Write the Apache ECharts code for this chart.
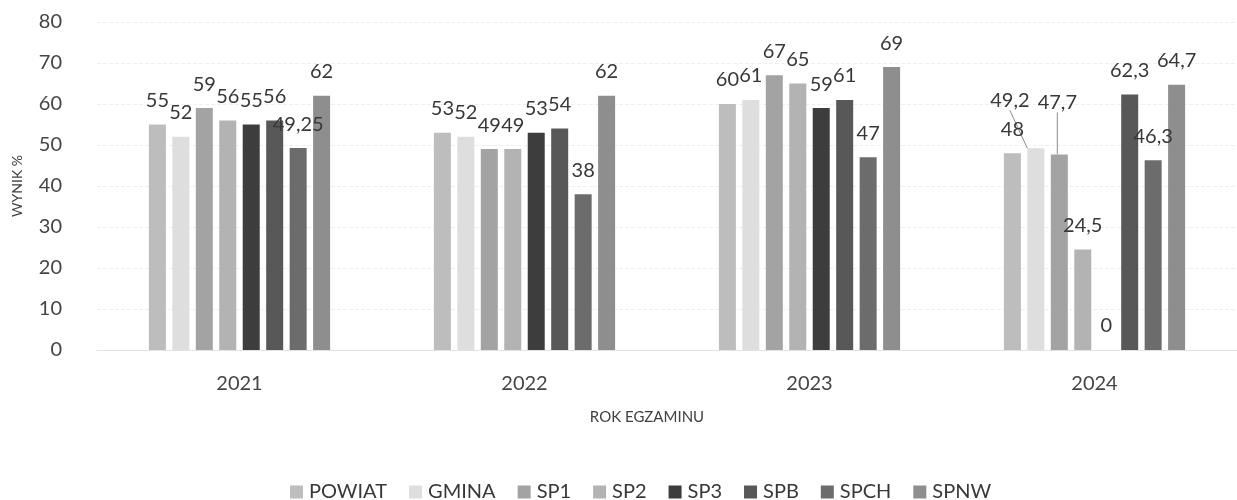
<!DOCTYPE html>
<html>
<head>
<meta charset="utf-8">
<script src="https://cdn.jsdelivr.net/npm/echarts@6/dist/echarts.min.js"></script>
<style>
  html, body { margin: 0; padding: 0; background: #fff; }
  #main { width: 1237px; height: 500px; }
</style>
</head>
<body>
<div id="main"></div>
<script>
// lata egzaminu
var years = ['2021', '2022', '2023', '2024'];
// szkoly / jednostki
var seriesNames = ['POWIAT', 'GMINA', 'SP1', 'SP2', 'SP3', 'SPB', 'SPCH', 'SPNW'];
// wyniki w %
var powiat = [55, 53, 60, 48];
var gmina  = [52, 52, 61, 49.2];
var sp1    = [59, 49, 67, 47.7];
var sp2    = [56, 49, 65, 24.5];
var sp3    = [55, 53, 59, 0];
var spb    = [56, 54, 61, 62.3];
var spch   = [49.25, 38, 47, 46.3];
var spnw   = [62, 62, 69, 64.7];
var seriesData = [powiat, gmina, sp1, sp2, sp3, spb, spch, spnw];
// os Y
var yTicks = [0, 10, 20, 30, 40, 50, 60, 70, 80];

var colors = ['#bdbdbd', '#dedede', '#a3a3a3', '#b3b3b3', '#3d3d3d', '#585858', '#6c6c6c', '#8e8e8e'];
var fontName = 'Lato';

// etykiety przesuniete (jak w Excelu)
var labelMoves = {
  'GMINA|3': {dx: -26, dy: -24},
  'SP1|3': {dx: -2, dy: -28}
};

var series = [];
for (var i = 0; i < seriesNames.length; i++) {
  var items = [];
  for (var j = 0; j < seriesData[i].length; j++) {
    if (labelMoves[seriesNames[i] + '|' + j]) {
      items.push({value: seriesData[i][j], labelLine: {show: true}});
    } else {
      items.push(seriesData[i][j]);
    }
  }
  series.push({
    name: seriesNames[i],
    type: 'bar',
    barWidth: 17,
    barGap: '38%',
    itemStyle: {color: colors[i]},
    label: {
      show: true,
      position: 'top',
      distance: 14,
      fontFamily: fontName,
      fontSize: 20,
      color: '#383838',
      formatter: function (p) { return String(p.value).replace('.', ','); }
    },
    labelLine: {show: false, lineStyle: {color: '#8a8a8a', width: 1}},
    data: items
  });
}

var chart = echarts.init(document.getElementById('main'));
var option = {
  animation: false,
  grid: {left: 97, top: 22, width: 1164, height: 328},
  legend: {
    left: 285,
    top: 477,
    itemWidth: 13,
    itemHeight: 13,
    itemGap: 22,
    icon: 'rect',
    textStyle: {fontFamily: fontName, fontSize: 20, color: '#383838', padding: [0, 0, 0, 1]},
    data: seriesNames
  },
  xAxis: {
    type: 'category',
    data: years,
    name: 'ROK EGZAMINU',
    nameLocation: 'middle',
    nameGap: 60,
    nameTextStyle: {fontFamily: fontName, fontSize: 15, color: '#404040', padding: [0, 40, 0, 0]},
    axisLine: {lineStyle: {color: '#e2e2e2'}},
    axisTick: {show: false},
    axisLabel: {margin: 24, fontFamily: fontName, fontSize: 20, color: '#454545'}
  },
  yAxis: {
    type: 'value',
    min: yTicks[0],
    max: yTicks[yTicks.length - 1],
    interval: 10,
    name: 'WYNIK %',
    nameLocation: 'middle',
    nameGap: 73,
    nameTextStyle: {fontFamily: fontName, fontSize: 14, color: '#404040'},
    axisLine: {show: false},
    axisTick: {show: false},
    axisLabel: {margin: 35, fontFamily: fontName, fontSize: 20, color: '#454545'},
    splitLine: {lineStyle: {color: '#efefef', type: 'dashed'}}
  },
  labelLayout: function (params) {
    var s = seriesNames[params.seriesIndex];
    var m = labelMoves[s + '|' + params.dataIndex];
    if (m) {
      return {dx: m.dx, dy: m.dy};
    }
  },
  series: series
};
chart.setOption(option);
</script>
</body>
</html>
